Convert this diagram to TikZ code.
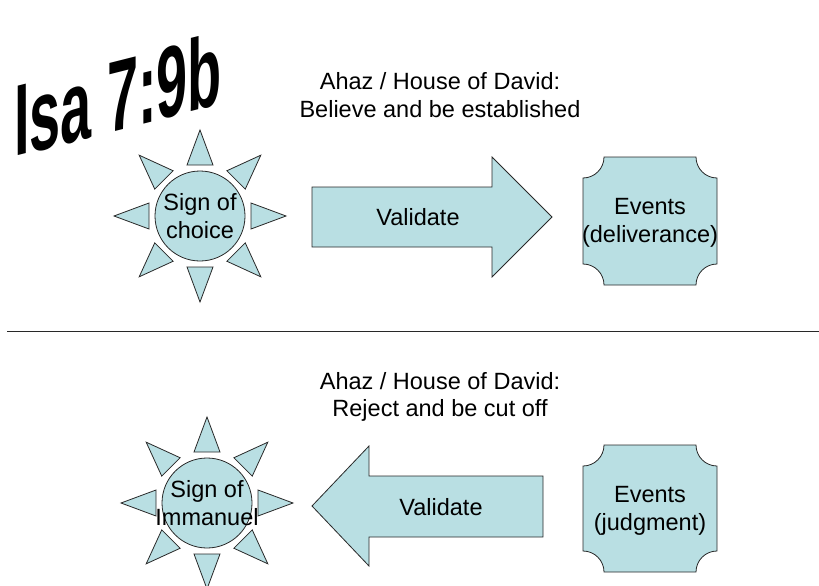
\documentclass[tikz,border=0pt]{standalone}
\usepackage{fontspec}
\setmainfont{Liberation Sans}
\begin{document}
\begin{tikzpicture}[x=1pt,y=-1pt,
  shp/.style={fill=shpfill,draw=shpedge,line width=0.8pt,line join=miter},
  lbl/.style={font=\fontsize{23.5}{27.5}\selectfont,align=center,inner sep=0pt,text=black}]
\definecolor{shpfill}{RGB}{185,223,227}
\definecolor{shpedge}{RGB}{40,40,40}
\useasboundingbox (0,0) rectangle (819,586);
% title
\node[font=\bfseries\fontsize{98}{98}\selectfont,xscale=0.57,yscale=1.03,yslant=0.14,anchor=base west,inner sep=0pt] (title) at (14,157) {Isa 7:9b};
% captions
\node[lbl] (cap1) at (440,95) {Ahaz / House of David:\\Believe and be established};
\node[lbl] (cap2) at (440,397) {Ahaz / House of David:\\Reject and be cut off};
% divider
\coordinate (dl) at (7,331);
\coordinate (dr) at (819,331);
\draw[draw=shpedge,line width=1pt] (dl) -- (dr);
% suns
\foreach \cx/\cy/\nm in {200/216/sunA,207/503/sunB}{
  \begin{scope}[shift={(\cx,\cy)}]
    \foreach \a in {0,45,...,315}{
      \draw[shp,rotate=\a] (51,-13) -- (86,0) -- (51,13) -- cycle;
    }
    \node[shp,circle,minimum size=90pt,inner sep=0pt] (\nm) at (0,0) {};
  \end{scope}
}
\node[lbl] (sunAt) at (sunA) {Sign of\\choice};
\node[lbl] (sunBt) at (sunB) {Sign of\\Immanuel};
% arrows
\draw[shp] (312,187) -- (492,187) -- (492,157) -- (552,217) -- (492,277) -- (492,247) -- (312,247) -- cycle;
\node[lbl] (arrA) at (418,217) {Validate};
\draw[shp] (543,476) -- (369,476) -- (369,446) -- (312,506) -- (369,566) -- (369,537) -- (543,537) -- cycle;
\node[lbl] (arrB) at (441,507) {Validate};
% event plaques
\foreach \xa/\ya/\xb/\yb in {583/157/717/285,583/445/717/572}{
  \def\r{21}
  \draw[shp] (\xa+\r,\ya) -- (\xb-\r,\ya)
    .. controls (\xb-\r,\ya+0.552*\r) and (\xb-0.552*\r,\ya+\r) .. (\xb,\ya+\r)
    -- (\xb,\yb-\r)
    .. controls (\xb-0.552*\r,\yb-\r) and (\xb-\r,\yb-0.552*\r) .. (\xb-\r,\yb)
    -- (\xa+\r,\yb)
    .. controls (\xa+\r,\yb-0.552*\r) and (\xa+0.552*\r,\yb-\r) .. (\xa,\yb-\r)
    -- (\xa,\ya+\r)
    .. controls (\xa+0.552*\r,\ya+\r) and (\xa+\r,\ya+0.552*\r) .. (\xa+\r,\ya) -- cycle;
}
\node[lbl] (evA) at (650,223) {Events\\(deliverance)};
\node[lbl] (evB) at (650,511) {Events\\(judgment)};
\end{tikzpicture}
\end{document}
